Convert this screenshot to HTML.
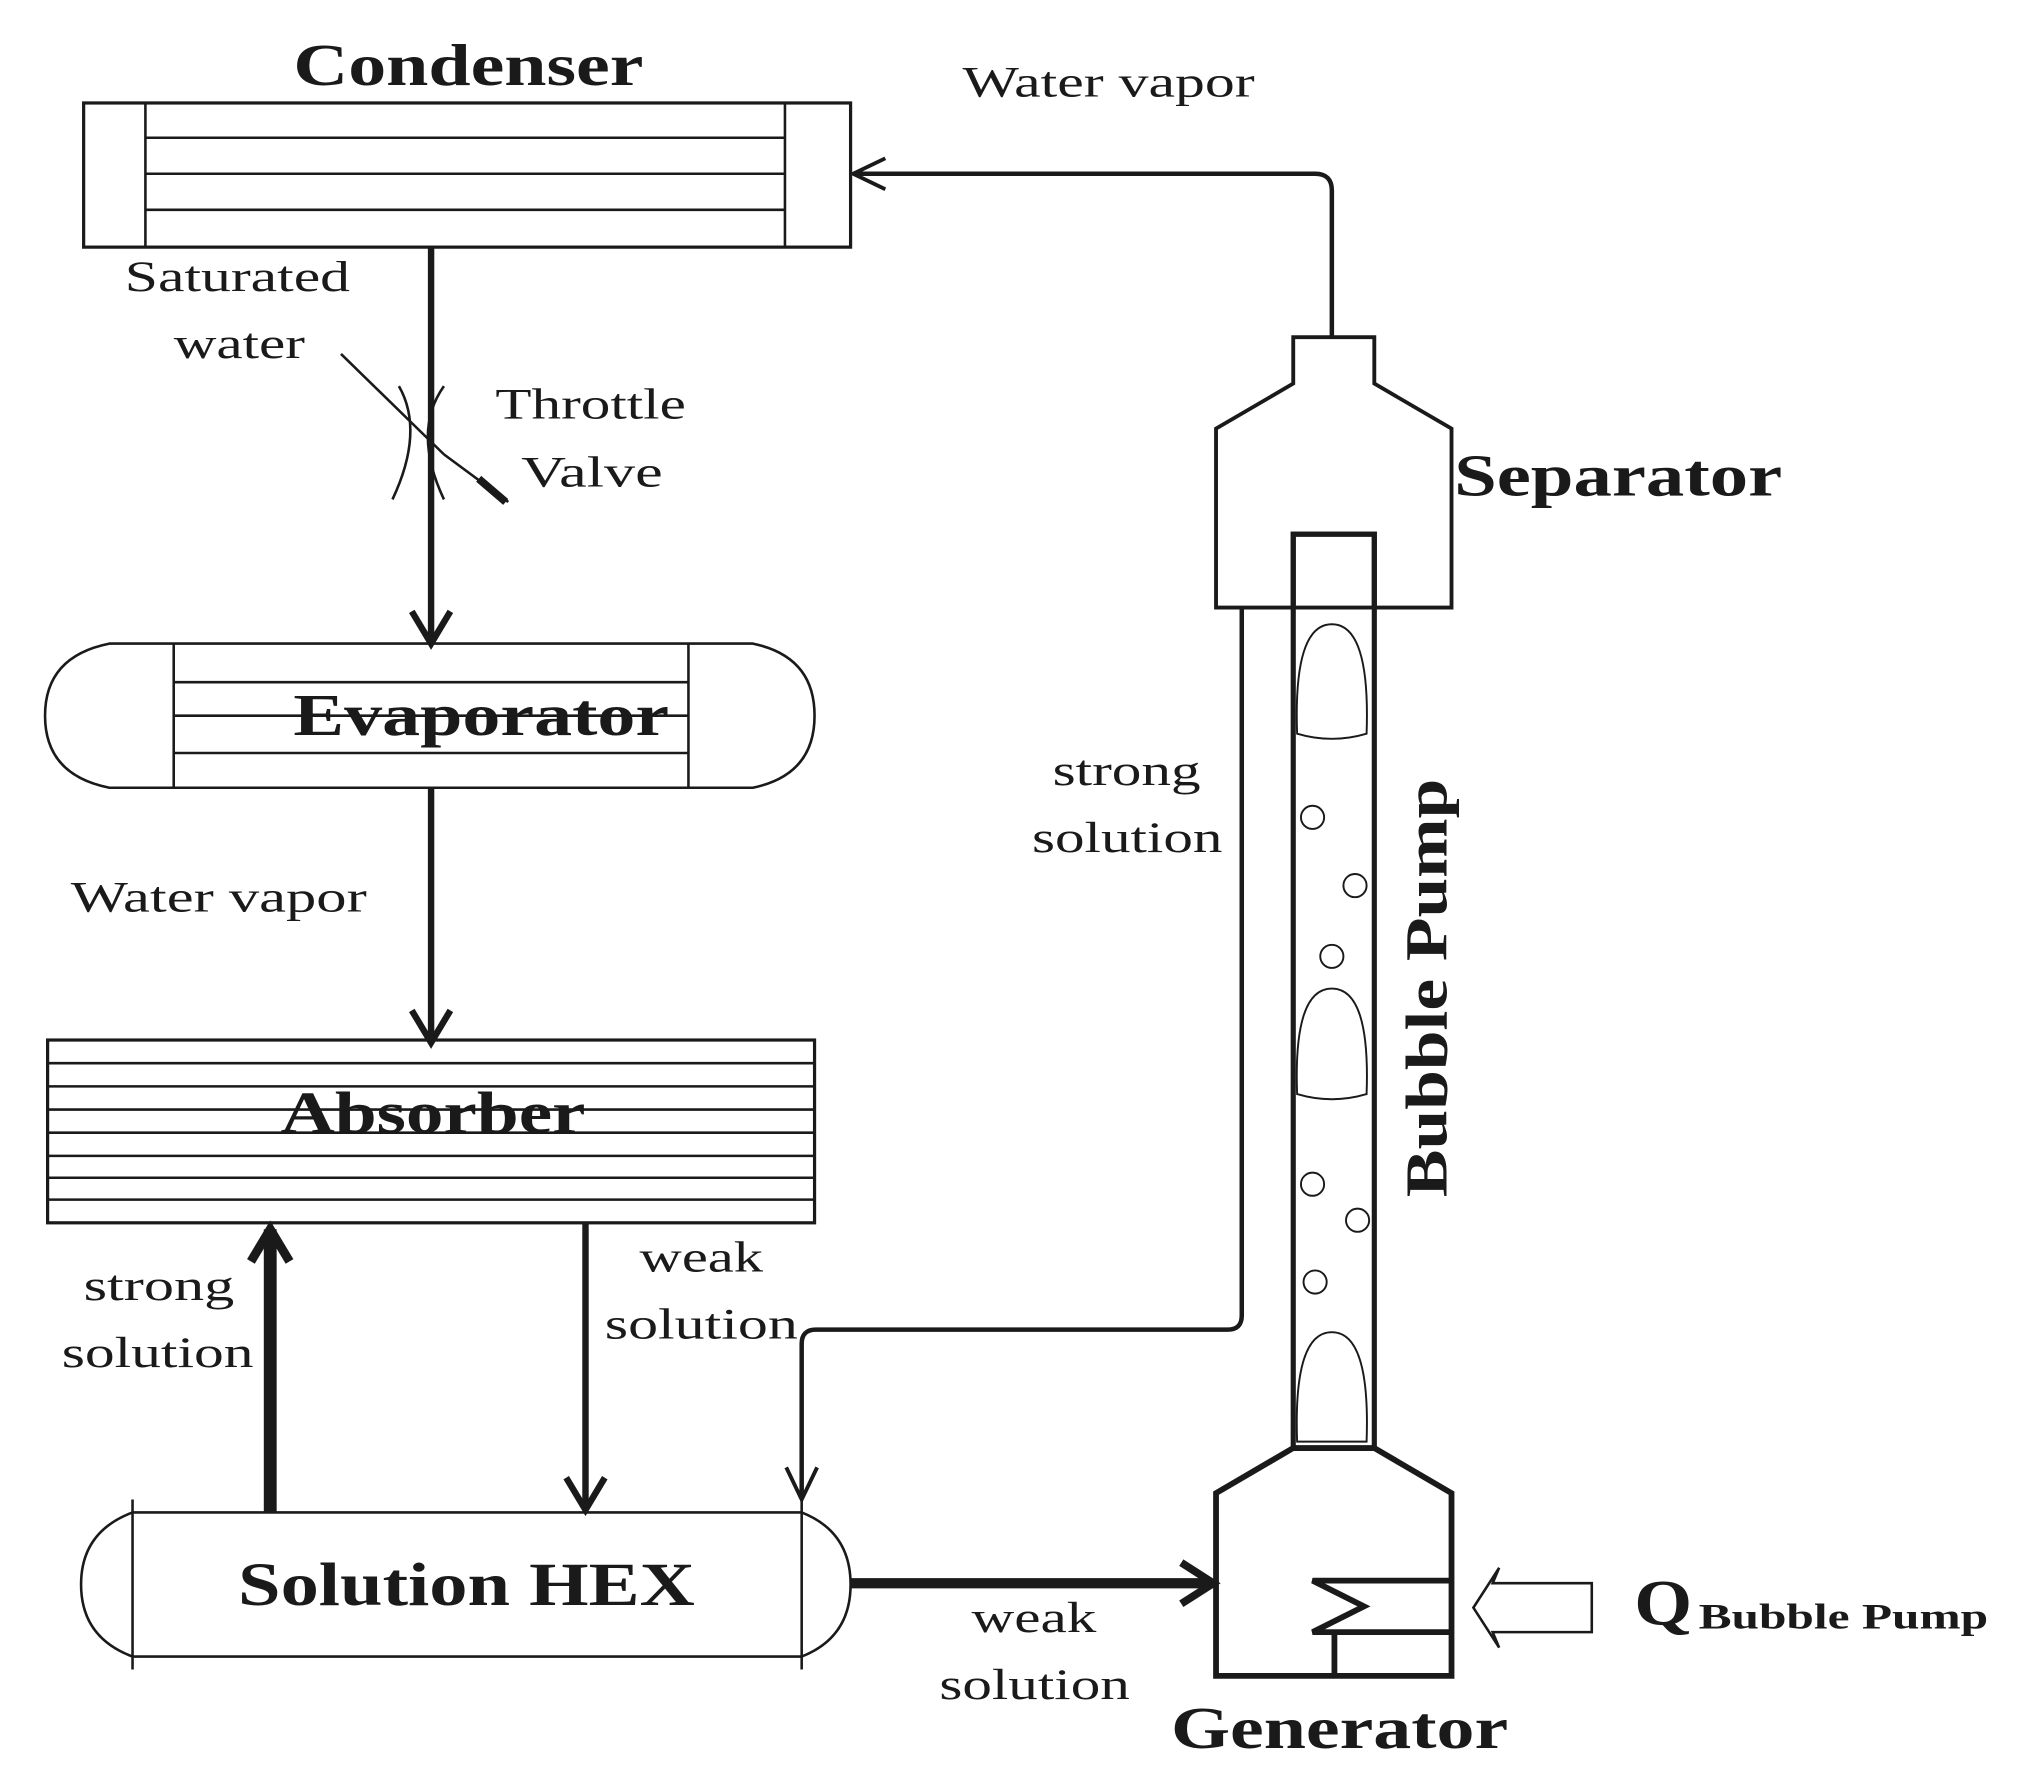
<!DOCTYPE html>
<html><head><style>html,body{margin:0;padding:0;background:#fff}svg{display:block}</style></head>
<body>
<svg width="2019" height="1775" viewBox="0 0 1569 1379" preserveAspectRatio="none" xmlns="http://www.w3.org/2000/svg" font-family="Liberation Serif, serif" fill="none" stroke="#1a1a1a">
<g fill="#1a1a1a" stroke="none" lengthAdjust="spacingAndGlyphs">
<text x="228" y="66" font-size="46" font-weight="bold" textLength="272" lengthAdjust="spacingAndGlyphs">Condenser</text>
<text x="97" y="226" font-size="34" textLength="175" lengthAdjust="spacingAndGlyphs">Saturated</text>
<text x="135" y="278" font-size="34" textLength="102" lengthAdjust="spacingAndGlyphs">water</text>
<text x="385" y="325" font-size="34" textLength="148" lengthAdjust="spacingAndGlyphs">Throttle</text>
<text x="405" y="378" font-size="34" textLength="110" lengthAdjust="spacingAndGlyphs">Valve</text>
<text x="748" y="75" font-size="34" textLength="227" lengthAdjust="spacingAndGlyphs">Water vapor</text>
<text x="55" y="708" font-size="34" textLength="230" lengthAdjust="spacingAndGlyphs">Water vapor</text>
<text x="65" y="1010" font-size="34" textLength="117" lengthAdjust="spacingAndGlyphs">strong</text>
<text x="48" y="1062" font-size="34" textLength="149" lengthAdjust="spacingAndGlyphs">solution</text>
<text x="497" y="988" font-size="34" textLength="96" lengthAdjust="spacingAndGlyphs">weak</text>
<text x="470" y="1040" font-size="34" textLength="150" lengthAdjust="spacingAndGlyphs">solution</text>
<text x="755" y="1268" font-size="34" textLength="97" lengthAdjust="spacingAndGlyphs">weak</text>
<text x="730" y="1320" font-size="34" textLength="148" lengthAdjust="spacingAndGlyphs">solution</text>
<text x="818" y="610" font-size="34" textLength="115" lengthAdjust="spacingAndGlyphs">strong</text>
<text x="802" y="662" font-size="34" textLength="148" lengthAdjust="spacingAndGlyphs">solution</text>
<text x="1130" y="385" font-size="46" font-weight="bold" textLength="255" lengthAdjust="spacingAndGlyphs">Separator</text>
<text x="910" y="1358" font-size="46" font-weight="bold" textLength="262" lengthAdjust="spacingAndGlyphs">Generator</text>
<text x="1270" y="1262" font-size="50" font-weight="bold" textLength="45" lengthAdjust="spacingAndGlyphs">Q</text>
<text x="1320" y="1265" font-size="28" font-weight="bold" textLength="225" lengthAdjust="spacingAndGlyphs">Bubble Pump</text>
<text transform="translate(1124 930) rotate(-90)" font-size="46" font-weight="bold" textLength="325" lengthAdjust="spacingAndGlyphs">Bubble Pump</text>
</g>
<!-- Condenser -->
<rect x="65" y="80" width="596" height="112" stroke-width="2.5"/>
<path d="M113 80V192M610 80V192M113 107H610M113 135H610M113 163H610" stroke-width="2"/>
<path d="M335 192V498" stroke-width="5"/>
<path d="M320 475L335 500L350 475" stroke-width="5"/>
<!-- throttle -->
<path d="M345 353L265 275M345 353L395 390" stroke-width="2"/>
<path d="M372 372L393 390" stroke-width="6"/>
<path d="M310 300Q330 335 305 388M345 300Q320 335 345 388" stroke-width="2"/>
<!-- Evaporator -->
<path d="M85 500H585Q633 510 633 556Q633 602 585 612H85Q35 602 35 556Q35 510 85 500Z" stroke-width="2"/>
<path d="M135 500V612M535 500V612M135 530H535M135 556H535M135 585H535" stroke-width="2"/>
<text x="228" y="571" font-size="46" font-weight="bold" textLength="292" lengthAdjust="spacingAndGlyphs" fill="#1a1a1a" stroke="none">Evaporator</text>
<path d="M335 612V808" stroke-width="5"/>
<path d="M320 785L335 810L350 785" stroke-width="5"/>
<!-- Absorber -->
<rect x="37" y="808" width="596" height="142" stroke-width="2.5"/>
<path d="M37 826H633M37 844H633M37 862H633M37 880H633M37 898H633M37 915H633M37 932H633" stroke-width="2"/>
<text x="218" y="880" font-size="46" font-weight="bold" textLength="237" lengthAdjust="spacingAndGlyphs" fill="#1a1a1a" stroke="none">Absorber</text>
<path d="M210 1175V955" stroke-width="10"/>
<path d="M195 980L210 955L225 980" stroke-width="7"/>
<path d="M455 950V1170" stroke-width="5"/>
<path d="M440 1148L455 1173L470 1148" stroke-width="5"/>
<!-- Solution HEX -->
<path d="M103 1175H623Q661 1190 661 1231Q661 1272 623 1287H103Q63 1272 63 1231Q63 1190 103 1175Z" stroke-width="2"/>
<path d="M103 1165V1297M623 1165V1297" stroke-width="2"/>
<text x="185" y="1247" font-size="48" font-weight="bold" textLength="355" lengthAdjust="spacingAndGlyphs" fill="#1a1a1a" stroke="none">Solution HEX</text>
<path d="M661 1230H940" stroke-width="8"/>
<path d="M918 1214L943 1230L918 1246" stroke-width="6"/>
<!-- Generator -->
<path d="M945 1302V1160L1005 1125H1068L1128 1160V1302Z" stroke-width="4.5"/>
<path d="M1128 1228H1020L1060 1248L1020 1268H1128M1037 1268V1302" stroke-width="4.5"/>
<path d="M1237 1230H1160L1165 1218L1145 1249L1165 1280L1160 1268H1237Z" stroke-width="2"/>
<!-- Bubble pump tube -->
<path d="M1005 1125V415H1068V1125" stroke-width="4"/>
<path d="M1008 570Q1005 485 1035 485Q1065 485 1062 570Q1035 578 1008 570Z" stroke-width="1.5"/>
<path d="M1008 850Q1005 768 1035 768Q1065 768 1062 850Q1035 858 1008 850Z" stroke-width="1.5"/>
<path d="M1008 1120Q1005 1035 1035 1035Q1065 1035 1062 1120Z" stroke-width="1.5"/>
<g stroke-width="1.5"><circle cx="1020" cy="635" r="9"/><circle cx="1053" cy="688" r="9"/><circle cx="1035" cy="743" r="9"/><circle cx="1020" cy="920" r="9"/><circle cx="1055" cy="948" r="9"/><circle cx="1022" cy="996" r="9"/></g>
<!-- Separator -->
<path d="M945 472V333L1005 298V262H1068V298L1128 333V472Z" stroke-width="3"/>
<path d="M1005 472V415H1068V472" stroke-width="4"/>
<!-- Water vapor line -->
<path d="M1035 262V148Q1035 135 1022 135H663" stroke-width="3.5"/>
<path d="M688 123L663 135L688 147" stroke-width="3"/>
<!-- strong solution line -->
<path d="M965 472V1022Q965 1033 954 1033H634Q623 1033 623 1044V1163" stroke-width="3.5"/>
<path d="M611 1140L623 1165L635 1140" stroke-width="3"/>
</svg>
</body></html>
